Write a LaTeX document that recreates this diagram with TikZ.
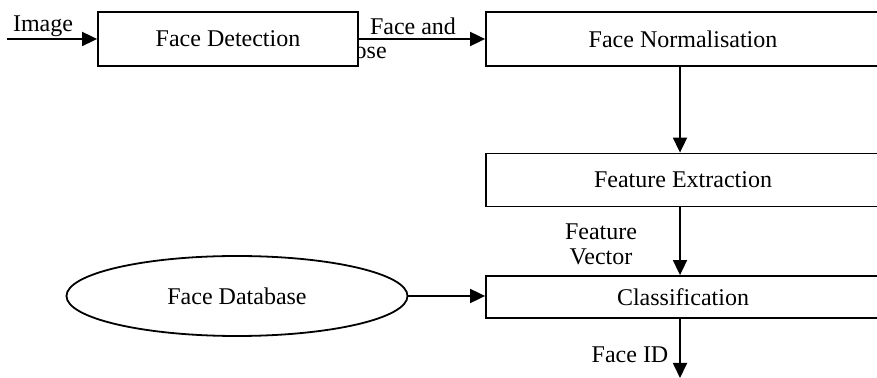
\documentclass[tikz,border=0pt]{standalone}
\usepackage{fontspec}
\setmainfont{Liberation Serif}
\usepackage{tikz}
\usetikzlibrary{positioning,arrows.meta,shapes.geometric}
\definecolor{cInk}{HTML}{000000}
\tikzset{
  blk/.style={draw=cInk, line width=0.9pt, fill=white, minimum height=27pt,
              align=center, inner sep=0pt, font=\fontsize{12}{14}\selectfont},
  oval/.style={blk, ellipse, minimum width=170.5pt, minimum height=40pt},
  ar/.style={-{Triangle[length=7.5pt,width=7pt]}, cInk, line width=0.9pt},
  tag/.style={font=\fontsize{12}{12.5}\selectfont, align=center, inner sep=0pt}
}
\begin{document}
\begin{tikzpicture}[x=0.5pt,y=-0.5pt]
\useasboundingbox (0,0) rectangle (877,378);
\clip (0,0) rectangle (877,378);
% hidden part of the pose label sits under the detection box
\node[tag] (pose) at (364,51) {Pose};
\node[blk, minimum width=130pt] (det) at (228,39) {Face Detection};
\node[blk, minimum width=197pt] (norm) at (683,39) {Face Normalisation};
\node[blk, minimum width=197pt, minimum height=26.5pt] (feat) at (683,180) {Feature Extraction};
\node[blk, minimum width=197pt, minimum height=21pt] (cls) at (683,297) {Classification};
\node[oval] (db) at (237,296) {Face Database};
\coordinate (in) at (7,39);
\coordinate (out) at (680,378);
\coordinate (cx) at (680,0);
% connectors
\draw[ar] (in) -- (det.west);
\draw[ar] (det.east) -- (norm.west);
\draw[ar] (norm.south -| cx) -- (feat.north -| cx);
\draw[ar] (feat.south -| cx) -- (cls.north -| cx);
\draw[ar] (cls.south -| cx) -- (out);
\draw[ar] (db.east) -- (db.east -| cls.west);
% labels
\node[tag] (limg) at (43,26) {Image};
\node[tag] (lface) at (413,26) {Face and};
\node[tag] (lvec) at (601,244) {Feature\\Vector};
\node[tag] (lid) at (630,355) {Face ID};
\end{tikzpicture}
\end{document}
